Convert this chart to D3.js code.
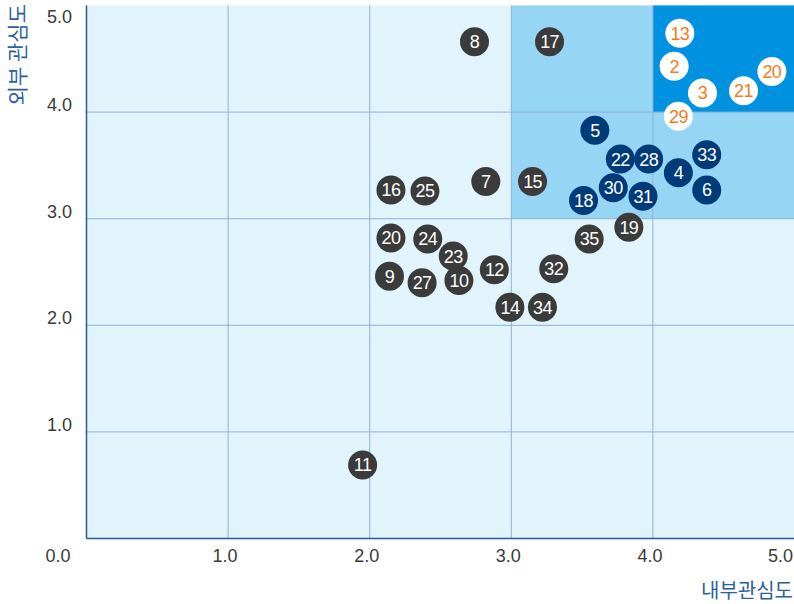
<!DOCTYPE html>
<html>
<head>
<meta charset="utf-8">
<script src="https://cdn.jsdelivr.net/npm/d3@7"></script>
<style>
  body { margin: 0; background: #fff; }
  svg { display: block; font-family: "Liberation Sans", Arial, sans-serif; }
</style>
</head>
<body>
<svg id="chart" width="794" height="604"></svg>
<script>
// data
const labels = [8, 17, 13, 2, 20, 21, 3, 29, 5, 22, 28, 33, 4, 6, 30, 31, 18, 15, 7, 16, 25, 20, 24, 23, 9, 27, 10, 12, 32, 35, 19, 14, 34, 11];
const internal = [2.74, 3.27, 4.19, 4.15, 4.84, 4.64, 4.35, 4.18, 3.59, 3.77, 3.97, 4.38, 4.18, 4.38, 3.72, 3.93, 3.51, 3.15, 2.82, 2.15, 2.39, 2.15, 2.41, 2.59, 2.14, 2.37, 2.63, 2.88, 3.30, 3.55, 3.83, 2.99, 3.22, 1.95];
const external = [4.66, 4.66, 4.74, 4.43, 4.38, 4.20, 4.18, 3.96, 3.83, 3.56, 3.56, 3.60, 3.43, 3.27, 3.29, 3.21, 3.17, 3.35, 3.35, 3.27, 3.26, 2.82, 2.81, 2.65, 2.46, 2.40, 2.42, 2.52, 2.53, 2.81, 2.92, 2.17, 2.17, 0.69];
const groups = ["gray", "gray", "top", "top", "top", "top", "top", "top", "mid", "mid", "mid", "mid", "mid", "mid", "mid", "mid", "mid", "gray", "gray", "gray", "gray", "gray", "gray", "gray", "gray", "gray", "gray", "gray", "gray", "gray", "gray", "gray", "gray", "gray"];
const ticks = [0, 1, 2, 3, 4, 5];

const fillOf = { gray: "#3b3b3b", mid: "#003b79", top: "#ffffff" };
const textOf = { gray: "#ffffff", mid: "#ffffff", top: "#f07d1c" };

const svg = d3.select("#chart");
const x = d3.scaleLinear().domain([0, 5]).range([86.5, 794.5]);
const y = d3.scaleLinear().domain([0, 5]).range([538.5, 5.5]);

// background zones
svg.append("rect")
  .attr("x", x(0)).attr("y", y(5))
  .attr("width", x(5) - x(0)).attr("height", y(0) - y(5))
  .attr("fill", "#e1f3fb");
svg.append("rect")
  .attr("x", x(3)).attr("y", y(5))
  .attr("width", x(5) - x(3)).attr("height", y(3) - y(5))
  .attr("fill", "#97d5f5");
svg.append("rect")
  .attr("x", x(4)).attr("y", y(5))
  .attr("width", x(5) - x(4)).attr("height", y(4) - y(5))
  .attr("fill", "#0092e0");

// grid
const grid = svg.append("g").attr("stroke", "#8fb1d6").attr("stroke-width", 1);
ticks.slice(1, 5).forEach((t) => {
  grid.append("line")
    .attr("x1", x(t)).attr("x2", x(t))
    .attr("y1", y(5)).attr("y2", y(0));
  grid.append("line")
    .attr("x1", x(0)).attr("x2", x(5))
    .attr("y1", y(t)).attr("y2", y(t));
});

// axes
svg.append("line")
  .attr("x1", x(0)).attr("x2", x(0))
  .attr("y1", y(5)).attr("y2", y(0))
  .attr("stroke", "#2a5a96").attr("stroke-width", 1.5);
svg.append("line")
  .attr("x1", x(0)).attr("x2", x(5))
  .attr("y1", y(0)).attr("y2", y(0))
  .attr("stroke", "#2a5a96").attr("stroke-width", 1.5);

// tick labels
svg.append("g")
  .selectAll("text")
  .data(ticks.slice(1))
  .enter().append("text")
  .attr("x", 72)
  .attr("y", (d) => d === 5 ? 23 : y(d) - 1)
  .attr("text-anchor", "end")
  .attr("font-size", 18)
  .attr("fill", "#3a3a3a")
  .text((d) => d.toFixed(1));

svg.append("g")
  .selectAll("text")
  .data(ticks)
  .enter().append("text")
  .attr("x", (d) => d === 0 ? 58 : d === 5 ? 793 : x(d) - 3)
  .attr("y", 562)
  .attr("text-anchor", (d) => d === 5 ? "end" : "middle")
  .attr("font-size", 18)
  .attr("fill", "#3a3a3a")
  .text((d) => d.toFixed(1));

// axis titles
svg.append("text")
  .attr("x", 793).attr("y", 598)
  .attr("text-anchor", "end")
  .attr("font-size", 20)
  .attr("fill", "#2c5f9e")
  .attr("font-family", "'Noto Sans CJK KR', sans-serif")
  .text("내부관심도");

svg.append("text")
  .attr("transform", "translate(25,4) rotate(-90)")
  .attr("text-anchor", "end")
  .attr("font-size", 21)
  .attr("fill", "#2c5f9e")
  .attr("font-family", "'Noto Sans CJK KR', sans-serif")
  .text("외부 관심도");

// points
const pts = svg.append("g")
  .selectAll("g")
  .data(labels.map((l, i) => ({ label: l, vx: internal[i], vy: external[i], g: groups[i] })))
  .enter().append("g")
  .attr("transform", (d) => "translate(" + x(d.vx) + "," + y(d.vy) + ")");

pts.append("circle")
  .attr("r", 14.5)
  .attr("fill", (d) => fillOf[d.g]);

pts.append("text")
  .attr("text-anchor", "middle")
  .attr("dy", 6.5)
  .attr("font-size", 18)
  .attr("letter-spacing", -0.6)
  .attr("fill", (d) => textOf[d.g])
  .text((d) => d.label);
</script>
</body>
</html>
